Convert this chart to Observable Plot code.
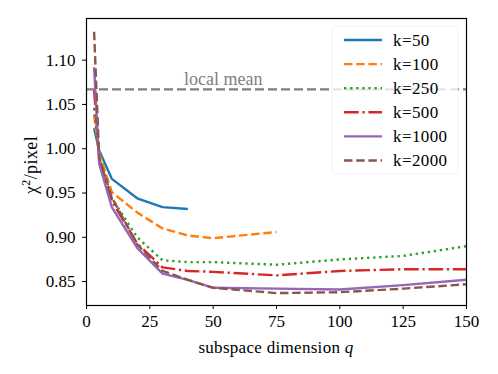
<!DOCTYPE html>
<html>
<head>
<meta charset="utf-8">
<script src="https://cdn.jsdelivr.net/npm/d3@7"></script>
<script src="https://cdn.jsdelivr.net/npm/@observablehq/plot@0.6"></script>
<style>
  html, body { margin: 0; padding: 0; background: #fff; }
  #chart { position: relative; width: 498px; height: 374px; }
</style>
</head>
<body>
<div id="chart"></div>
<script>
const qValues = [3, 5, 10, 20, 30, 40, 50, 75, 100, 125, 150];
const k50   = [1.023, 0.998, 0.966, 0.944, 0.934, 0.932];
const k100  = [1.038, 0.995, 0.951, 0.928, 0.910, 0.902, 0.899, 0.906];
const k250  = [1.046, 0.990, 0.944, 0.900, 0.874, 0.872, 0.872, 0.869, 0.875, 0.879, 0.890];
const k500  = [1.066, 0.988, 0.941, 0.893, 0.866, 0.862, 0.861, 0.857, 0.862, 0.864, 0.864];
const k1000 = [1.092, 0.983, 0.934, 0.888, 0.859, 0.852, 0.843, 0.842, 0.841, 0.846, 0.852];
const k2000 = [1.132, 0.990, 0.945, 0.892, 0.862, 0.852, 0.843, 0.837, 0.838, 0.842, 0.847];
const localMean = 1.067;
const localMeanLabel = "local mean";
const seriesNames = ["k=50", "k=100", "k=250", "k=500", "k=1000", "k=2000"];
const seriesValues = [k50, k100, k250, k500, k1000, k2000];
const colors = ["#1f77b4", "#ff7f0e", "#2ca02c", "#d62728", "#9467bd", "#8c564b"];
const dashes = [null, "8.5,3.7", "2.3,3.8", "14.7,3.7,2.3,3.7", null, "8.5,3.7"];
const xTicks = [0, 25, 50, 75, 100, 125, 150];
const yTicks = [0.85, 0.90, 0.95, 1.00, 1.05, 1.10];

const font = "Liberation Serif, DejaVu Serif, serif";
const lw = 2.4;

const lineMarks = seriesValues.map((vals, i) =>
  Plot.line(vals.map((v, j) => ({q: qValues[j], v})), {
    x: "q", y: "v", stroke: colors[i], strokeWidth: lw,
    strokeDasharray: dashes[i] || undefined, strokeLinejoin: "round", strokeLinecap: "butt"
  })
);

const plot = Plot.plot({
  width: 498, height: 374,
  marginLeft: 86, marginRight: 32, marginTop: 18, marginBottom: 69,
  style: {fontFamily: font, fontSize: "17px", color: "black", background: "white"},
  x: {domain: [0, 150]},
  y: {domain: [0.823, 1.147]},
  marks: [
    Plot.ruleY([localMean], {stroke: "#7f7f7f", strokeWidth: 2.4, strokeDasharray: "9,4"}),
    Plot.text([localMeanLabel], {x: 54, y: 1.0785, text: d => d, fill: "#7f7f7f", fontSize: 18, fontFamily: font, letterSpacing: "0.6px"}),
    ...lineMarks,
    Plot.axisX({ticks: xTicks, tickSize: 4, tickPadding: 5, label: null, tickFormat: d3.format("d"), fontSize: 17, fontFamily: font}),
    Plot.axisY({ticks: yTicks, tickSize: 4, tickPadding: 7, label: null, tickFormat: d3.format(".2f"), fontSize: 17, fontFamily: font}),
    Plot.frame({stroke: "black", strokeWidth: 1.2})
  ]
});

document.getElementById("chart").appendChild(plot);

const svg = d3.select(plot);
// axis labels
const xl = svg.append("text").attr("x", 276).attr("y", 353)
  .attr("text-anchor", "middle").style("font-family", font).attr("font-size", 17).attr("fill", "black")
  .style("letter-spacing", "0.3px");
xl.append("tspan").text("subspace dimension ");
xl.append("tspan").attr("font-style", "italic").text("q");

const yl = svg.append("text").attr("transform", "translate(37,165) rotate(-90)")
  .attr("text-anchor", "middle").style("font-family", font).attr("font-size", 18).attr("fill", "black")
  .style("letter-spacing", "0.4px");
yl.append("tspan").text("χ");
yl.append("tspan").attr("font-size", 12).attr("dy", -7).text("2");
yl.append("tspan").attr("dy", 7).text("/pixel");

// legend
const lg = svg.append("g");
lg.append("rect").attr("x", 332).attr("y", 26).attr("width", 126).attr("height", 148)
  .attr("rx", 3).attr("fill", "white").attr("fill-opacity", 0.8).attr("stroke", "#e0e0e0").attr("stroke-opacity", 0.4);
seriesNames.forEach((name, i) => {
  const y = 40 + i * 24.1;
  lg.append("line").attr("x1", 344).attr("x2", 382).attr("y1", y).attr("y2", y)
    .attr("stroke", colors[i]).attr("stroke-width", lw)
    .attr("stroke-dasharray", dashes[i] || null);
  lg.append("text").attr("x", 393).attr("y", y).attr("dy", "0.35em").attr("text-anchor", "start")
    .style("font-family", font).attr("font-size", 17).attr("fill", "black")
    .style("letter-spacing", "0.4px").text(name);
});
</script>
</body>
</html>
